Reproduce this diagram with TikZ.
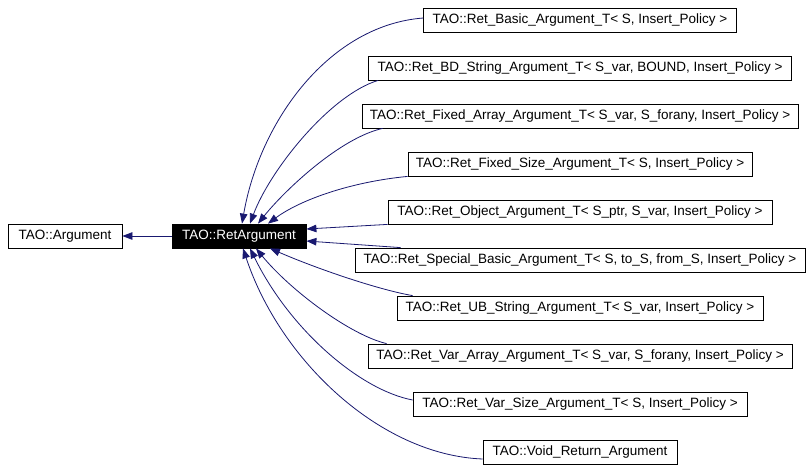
\documentclass[tikz,border=0pt]{standalone}
\usepackage{fontspec}
\setmainfont{Liberation Sans}
\usetikzlibrary{arrows.meta}
\definecolor{edgeblue}{HTML}{191970}
\begin{document}
\begin{tikzpicture}[x=1pt,y=-1pt,
  cls/.style={draw=black, line width=0.8pt, minimum height=24pt, inner sep=0pt,
    font=\fontsize{13.5}{15}\selectfont, text=black},
  edge/.style={draw=edgeblue, line width=0.8pt,
    -{Triangle[length=10pt,width=7.5pt,fill=edgeblue]}},
]
\useasboundingbox[fill=white] (0,0) rectangle (811,469);

\node[cls, minimum width=114pt] (arg) at (65,236) {TAO::Argument};
\node[cls, fill=black, text=white, minimum width=134pt] (ret) at (239,236) {TAO::RetArgument};

\node[cls, minimum width=312.5pt] (basic) at (580,20) {TAO::Ret\_Basic\_Argument\_T< S, Insert\_Policy >};
\node[cls, minimum width=423pt] (bd) at (580,68) {TAO::Ret\_BD\_String\_Argument\_T< S\_var, BOUND, Insert\_Policy >};
\node[cls, minimum width=436pt] (fixedarray) at (580,116) {TAO::Ret\_Fixed\_Array\_Argument\_T< S\_var, S\_forany, Insert\_Policy >};
\node[cls, minimum width=344pt] (fixedsize) at (580,164) {TAO::Ret\_Fixed\_Size\_Argument\_T< S, Insert\_Policy >};
\node[cls, minimum width=384pt] (object) at (580,212) {TAO::Ret\_Object\_Argument\_T< S\_ptr, S\_var, Insert\_Policy >};
\node[cls, minimum width=450pt] (special) at (580,260) {TAO::Ret\_Special\_Basic\_Argument\_T< S, to\_S, from\_S, Insert\_Policy >};
\node[cls, minimum width=366pt] (ub) at (580,308) {TAO::Ret\_UB\_String\_Argument\_T< S\_var, Insert\_Policy >};
\node[cls, minimum width=424pt] (vararray) at (580,356) {TAO::Ret\_Var\_Array\_Argument\_T< S\_var, S\_forany, Insert\_Policy >};
\node[cls, minimum width=334pt] (varsize) at (580,404) {TAO::Ret\_Var\_Size\_Argument\_T< S, Insert\_Policy >};
\node[cls, minimum width=194pt] (void) at (580,452) {TAO::Void\_Return\_Argument};

\draw[edge] (ret.west) -- (arg.east);

\draw[edge] ([yshift=2pt]basic.west) .. controls (330,25) and (260,120) .. ([xshift=3pt]ret.north);
\draw[edge] ([xshift=10pt]bd.south west) .. controls (330,95) and (270,170) .. ([xshift=11pt]ret.north);
\draw[edge] ([xshift=21pt]fixedarray.south west) .. controls (340,138) and (285,190) .. ([xshift=19pt]ret.north);
\draw[edge] (fixedsize.south west) .. controls (350,182) and (300,200) .. ([xshift=29pt]ret.north);
\draw[edge] (object.south west) -- ([yshift=7pt]ret.east);
\draw[edge] ([xshift=46pt]special.north west) -- ([yshift=-5pt]ret.east);
\draw[edge] ([xshift=16pt]ub.north west) .. controls (380,290) and (320,270) .. ([xshift=31pt]ret.south);
\draw[edge] ([xshift=19pt]vararray.north west) .. controls (350,335) and (290,290) .. ([xshift=17pt]ret.south);
\draw[edge] ([yshift=4pt]varsize.west) .. controls (360,390) and (290,330) .. ([xshift=11pt]ret.south);
\draw[edge] ([yshift=-7pt]void.west) .. controls (380,455) and (280,360) .. ([xshift=4pt]ret.south);
\end{tikzpicture}
\end{document}
